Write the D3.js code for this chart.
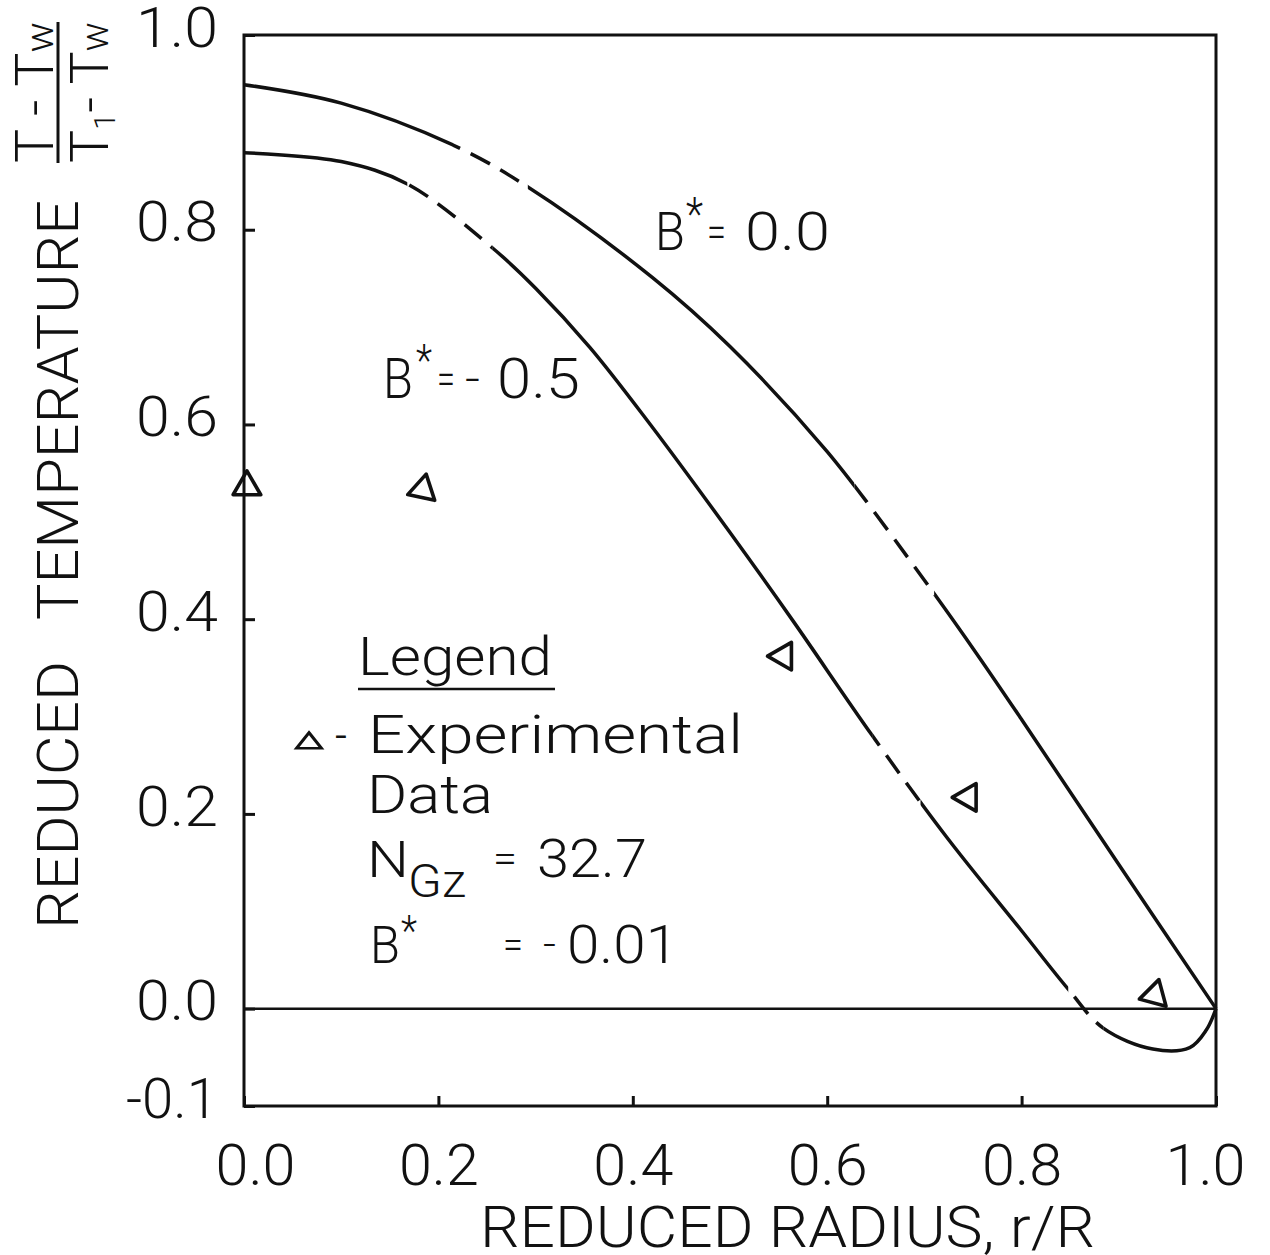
<!DOCTYPE html>
<html>
<head>
<meta charset="utf-8">
<script src="https://cdn.jsdelivr.net/npm/d3@7"></script>
<style>
  html, body { margin: 0; padding: 0; background: #fff; }
  svg { display: block; }
  text { font-family: Roboto, "Open Sans", Lato, "DejaVu Sans", sans-serif; font-weight: 300; fill: #111; }
</style>
</head>
<body>
<svg id="chart" width="1270" height="1255"></svg>
<script>
// Axis ticks
const xTicks = [0, 0.2, 0.4, 0.6, 0.8, 1.0];
const xTickLabels = ["0.0", "0.2", "0.4", "0.6", "0.8", "1.0"];
const yTicks = [-0.1, 0, 0.2, 0.4, 0.6, 0.8, 1.0];
const yTickLabels = ["-0.1", "0.0", "0.2", "0.4", "0.6", "0.8", "1.0"];

// Predicted profile, B* = 0.0
const radiusB0 = [0, 0.1, 0.215, 0.292, 0.42, 0.5, 0.6, 0.7, 0.75, 0.8, 0.9, 1.0];
const tempB0   = [0.949, 0.930, 0.887, 0.844, 0.751, 0.680, 0.572, 0.440, 0.370, 0.297, 0.148, 0.0];
const dashedB0 = [[0.215, 0.292], [0.628, 0.71]];

// Predicted profile, B* = -0.5
const radiusB5 = [0, 0.1, 0.168, 0.256, 0.3, 0.356, 0.418, 0.5, 0.565, 0.646, 0.723, 0.8, 0.848, 0.884, 0.935, 0.973, 0.99, 1.0];
const tempB5   = [0.879, 0.870, 0.847, 0.781, 0.740, 0.679, 0.600, 0.489, 0.398, 0.281, 0.176, 0.080, 0.020, -0.020, -0.0415, -0.040, -0.022, 0.0];
const dashedB5 = [[0.168, 0.256], [0.647, 0.696], [0.848, 0.884]];

// Experimental data (N_Gz = 32.7, B* = -0.01)
const expRadius = [0.003, 0.184, 0.555, 0.745, 0.937];
const expTemp   = [0.536, 0.533, 0.362, 0.217, 0.014];
const expAngle  = [0, 12, -90, -90, 15];

const ink = "#111";
const svg = d3.select("#chart");

const x = d3.scaleLinear().domain([0, 1]).range([244, 1216]);
const y = d3.scaleLinear().domain([-0.1, 1.0]).range([1106, 35]);

// Frame
svg.append("rect")
  .attr("x", x(0)).attr("y", y(1))
  .attr("width", x(1) - x(0)).attr("height", y(-0.1) - y(1))
  .attr("fill", "none").attr("stroke", ink).attr("stroke-width", 3);

// Left axis: inward ticks
const yAxis = svg.append("g")
  .attr("transform", `translate(${x(0)},0)`)
  .call(d3.axisLeft(y).tickValues(yTicks)
    .tickFormat((d, i) => yTickLabels[i])
    .tickSizeInner(-11).tickSizeOuter(0).tickPadding(26));
yAxis.select(".domain").remove();
yAxis.selectAll(".tick line").attr("stroke", ink).attr("stroke-width", 3);
yAxis.selectAll(".tick text")
  .attr("dy", "0.2em")
  .style("font-size", "56px")
  .attr("textLength", (d, i) => yTickLabels[i].length > 3 ? 92 : 82)
  .attr("lengthAdjust", "spacingAndGlyphs")
  .attr("fill", ink);

// Bottom axis: inward ticks
const xAxis = svg.append("g")
  .attr("transform", `translate(0,${y(-0.1)})`)
  .call(d3.axisBottom(x).tickValues(xTicks)
    .tickFormat((d, i) => xTickLabels[i])
    .tickSizeInner(-10).tickSizeOuter(0));
xAxis.select(".domain").remove();
xAxis.selectAll(".tick line").attr("stroke", ink).attr("stroke-width", 3);
xAxis.selectAll(".tick text")
  .attr("y", 79).attr("dy", 0)
  .attr("x", (d, i) => i === 0 ? 11 : (i === xTicks.length - 1 ? -11 : 0))
  .style("font-size", "58px")
  .attr("textLength", 80)
  .attr("lengthAdjust", "spacingAndGlyphs")
  .attr("fill", ink);

// Zero reference line
svg.append("line")
  .attr("x1", x(0)).attr("x2", x(1))
  .attr("y1", y(0)).attr("y2", y(0))
  .attr("stroke", ink).attr("stroke-width", 2.5);

// Curves: solid everywhere except the dashed radius ranges
const defs = svg.append("defs");
const line = d3.line().x(d => x(d[0])).y(d => y(d[1])).curve(d3.curveCatmullRom.alpha(0.5));

function addClip(id, ranges) {
  const cp = defs.append("clipPath").attr("id", id);
  ranges.forEach(r => {
    cp.append("rect")
      .attr("x", x(r[0])).attr("y", 0)
      .attr("width", x(r[1]) - x(r[0])).attr("height", 1255);
  });
}
function complement(ranges) {
  const out = [];
  let start = -0.1;
  ranges.forEach(r => { out.push([start, r[0]]); start = r[1]; });
  out.push([start, 1.1]);
  return out;
}
function drawCurve(id, rs, ts, dashed) {
  const pts = d3.zip(rs, ts);
  addClip(id + "-solid", complement(dashed));
  addClip(id + "-dash", dashed);
  svg.append("path").datum(pts)
    .attr("d", line).attr("fill", "none")
    .attr("stroke", ink).attr("stroke-width", 3.5)
    .attr("clip-path", `url(#${id}-solid)`);
  svg.append("path").datum(pts)
    .attr("d", line).attr("fill", "none")
    .attr("stroke", ink).attr("stroke-width", 3.5)
    .attr("stroke-dasharray", "22 12")
    .attr("clip-path", `url(#${id}-dash)`);
}
drawCurve("b0", radiusB0, tempB0, dashedB0);
drawCurve("b5", radiusB5, tempB5, dashedB5);

// Experimental points: open triangles
const tri = d3.symbol().type(d3.symbolTriangle).size(330);
svg.append("g").selectAll("path")
  .data(d3.zip(expRadius, expTemp, expAngle))
  .join("path")
  .attr("d", tri)
  .attr("transform", d => `translate(${x(d[0])},${y(d[1])}) rotate(${d[2]})`)
  .attr("fill", "none").attr("stroke", ink).attr("stroke-width", 3.6)
  .attr("stroke-linejoin", "round");

// Text helper
function label(str, px, py, size, len) {
  const t = svg.append("text")
    .attr("x", px).attr("y", py)
    .style("font-size", size + "px")
    .text(str);
  if (len) t.attr("textLength", len).attr("lengthAdjust", "spacingAndGlyphs");
  return t;
}

// Curve labels
label("B", 655, 250, 54, 30);
label("*", 686, 230, 46, 17);
label("=", 707, 247, 44, 19);
label("0.0", 745, 250, 54, 85);

label("B", 383, 398, 56, 30);
label("*", 416, 376, 44, 16);
label("=", 437, 394, 44, 18);
label("-", 465, 394, 44, 15);
label("0.5", 497, 398, 56, 83);

// Legend
label("Legend", 358, 675, 54, 194);
svg.append("line")
  .attr("x1", 358).attr("x2", 555).attr("y1", 689).attr("y2", 689)
  .attr("stroke", ink).attr("stroke-width", 2.5);
svg.append("path")
  .attr("d", d3.symbol().type(d3.symbolTriangle).size(170)())
  .attr("transform", "translate(309,743) scale(1.25,0.9)")
  .attr("fill", "none").attr("stroke", ink).attr("stroke-width", 2.8);
label("-", 335, 752, 50, 12);
label("Experimental", 368, 753, 54, 375);
label("Data", 367, 813, 54, 126);
label("N", 367, 877, 50, 42);
label("Gz", 408, 897, 46, 58);
label("=", 493, 872, 40, 24);
label("32.7", 537, 877, 54, 110);
label("B", 370, 963, 52, 30);
label("*", 401, 945, 42, 16);
label("=", 503, 958, 40, 20);
label("-", 543, 958, 40, 13);
label("0.01", 567, 963, 54, 111);

// Axis titles
label("REDUCED RADIUS, r/R", 480, 1247, 58, 615);

svg.append("text")
  .attr("transform", "translate(78,795) rotate(-90)")
  .attr("text-anchor", "middle")
  .style("font-size", "57px")
  .attr("textLength", 268).attr("lengthAdjust", "spacingAndGlyphs")
  .text("REDUCED");
svg.append("text")
  .attr("transform", "translate(78,410) rotate(-90)")
  .attr("text-anchor", "middle")
  .style("font-size", "57px")
  .attr("textLength", 420).attr("lengthAdjust", "spacingAndGlyphs")
  .text("TEMPERATURE");

// Fraction (T - Tw)/(T1 - Tw), rotated with the axis title
const frac = svg.append("g").attr("transform", "translate(0,163) rotate(-90)");
const num = frac.append("text").attr("x", 0).attr("y", 53).style("font-size", "54px")
  .attr("textLength", 141).attr("lengthAdjust", "spacingAndGlyphs");
num.append("tspan").text("T");
num.append("tspan").text(" - ");
num.append("tspan").text("T");
num.append("tspan").text("w").style("font-size", "38px");
const den = frac.append("text").attr("x", 0).attr("y", 108).style("font-size", "54px")
  .attr("textLength", 141).attr("lengthAdjust", "spacingAndGlyphs");
den.append("tspan").text("T");
den.append("tspan").text("1").style("font-size", "30px").attr("dy", 7);
den.append("tspan").text("- ").attr("dy", -7);
den.append("tspan").text("T");
den.append("tspan").text("w").style("font-size", "38px");
frac.append("line")
  .attr("x1", 0).attr("x2", 141).attr("y1", 58).attr("y2", 58)
  .attr("stroke", ink).attr("stroke-width", 3);
</script>
</body>
</html>
